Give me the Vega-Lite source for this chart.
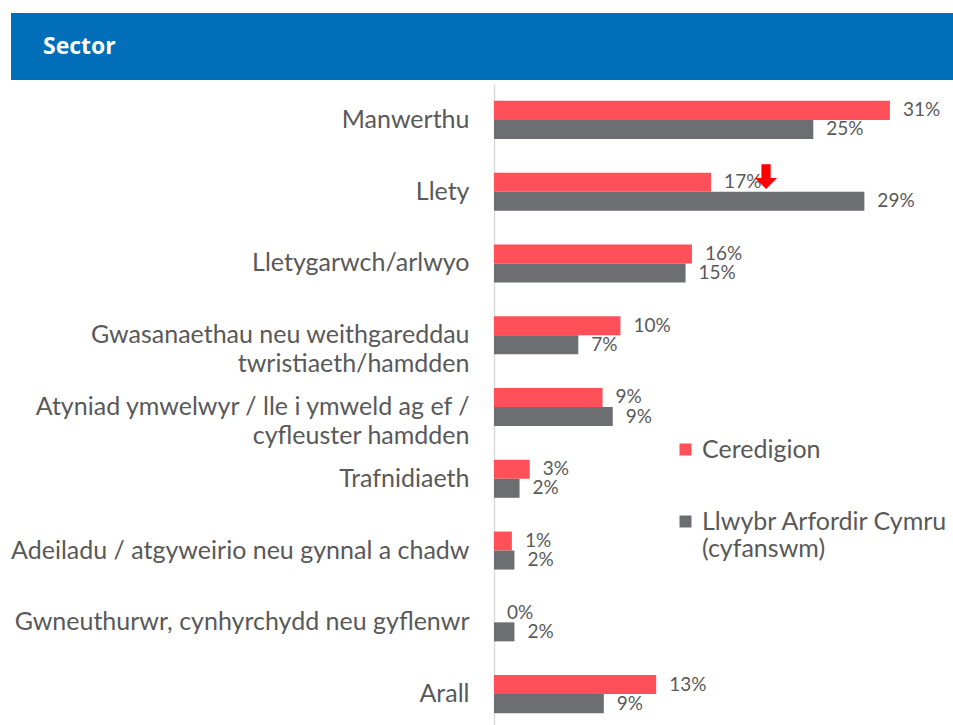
{
  "$schema": "https://vega.github.io/schema/vega-lite/v6.json",
  "padding": {"left": 10, "top": 13, "right": 0, "bottom": 0},
  "background": "white",
  "config": {"view": {"stroke": null}, "font": "Lato", "concat": {"spacing": 4}},
  "vconcat": [
    {
      "width": 460,
      "height": 67,
      "data": {"values": [{"title": "Sector", "x0": -483, "x1": 460, "xt": -451}]},
      "layer": [
        {
          "mark": {"type": "rect", "color": "#006EB8", "clip": false},
          "encoding": {
            "x": {"field": "x0", "type": "quantitative", "scale": {"domain": [0, 460], "nice": false, "zero": false}, "axis": null},
            "x2": {"field": "x1"},
            "y": {"datum": 0, "type": "quantitative", "scale": {"domain": [0, 1]}, "axis": null},
            "y2": {"datum": 1}
          }
        },
        {
          "mark": {"type": "text", "align": "left", "baseline": "middle", "color": "white", "fontSize": 23, "fontWeight": "bold", "font": "Open Sans"},
          "encoding": {
            "text": {"field": "title"},
            "x": {"field": "xt", "type": "quantitative"},
            "y": {"datum": 0.5, "type": "quantitative"}
          }
        }
      ]
    },
    {
      "width": 447,
      "height": 646,
      "data": {
        "values": [
          {"sector": "Manwerthu", "series": "Ceredigion", "value": 31, "label": "31%"},
          {"sector": "Manwerthu", "series": "Llwybr Arfordir Cymru (cyfanswm)", "value": 25, "label": "25%"},
          {"sector": "Llety", "series": "Ceredigion", "value": 17, "label": "17%"},
          {"sector": "Llety", "series": "Llwybr Arfordir Cymru (cyfanswm)", "value": 29, "label": "29%"},
          {"sector": "Lletygarwch/arlwyo", "series": "Ceredigion", "value": 15.5, "label": "16%"},
          {"sector": "Lletygarwch/arlwyo", "series": "Llwybr Arfordir Cymru (cyfanswm)", "value": 15, "label": "15%"},
          {"sector": "Gwasanaethau neu weithgareddau|twristiaeth/hamdden", "series": "Ceredigion", "value": 9.9, "label": "10%"},
          {"sector": "Gwasanaethau neu weithgareddau|twristiaeth/hamdden", "series": "Llwybr Arfordir Cymru (cyfanswm)", "value": 6.6, "label": "7%"},
          {"sector": "Atyniad ymwelwyr / lle i ymweld ag ef /|cyfleuster hamdden", "series": "Ceredigion", "value": 8.5, "label": "9%"},
          {"sector": "Atyniad ymwelwyr / lle i ymweld ag ef /|cyfleuster hamdden", "series": "Llwybr Arfordir Cymru (cyfanswm)", "value": 9.3, "label": "9%"},
          {"sector": "Trafnidiaeth", "series": "Ceredigion", "value": 2.8, "label": "3%"},
          {"sector": "Trafnidiaeth", "series": "Llwybr Arfordir Cymru (cyfanswm)", "value": 2.0, "label": "2%"},
          {"sector": "Adeiladu / atgyweirio neu gynnal a chadw", "series": "Ceredigion", "value": 1.4, "label": "1%"},
          {"sector": "Adeiladu / atgyweirio neu gynnal a chadw", "series": "Llwybr Arfordir Cymru (cyfanswm)", "value": 1.6, "label": "2%"},
          {"sector": "Gwneuthurwr, cynhyrchydd neu gyflenwr", "series": "Ceredigion", "value": 0, "label": "0%"},
          {"sector": "Gwneuthurwr, cynhyrchydd neu gyflenwr", "series": "Llwybr Arfordir Cymru (cyfanswm)", "value": 1.6, "label": "2%"},
          {"sector": "Arall", "series": "Ceredigion", "value": 12.7, "label": "13%"},
          {"sector": "Arall", "series": "Llwybr Arfordir Cymru (cyfanswm)", "value": 8.6, "label": "9%"}
        ]
      },
      "encoding": {
        "y": {
          "field": "sector",
          "type": "nominal",
          "sort": null,
          "scale": {"paddingInner": 0.47, "paddingOuter": 0.235},
          "axis": {
            "title": null,
            "ticks": false,
            "domain": true,
            "domainColor": "#D9D9D9",
            "domainWidth": 1.5,
            "labelFontSize": 25,
            "labelColor": "#595959",
            "labelPadding": 25,
            "labelLineHeight": 29,
            "labelLimit": 0,
            "labelExpr": "split(datum.label, '|')",
            "minExtent": 482,
            "maxExtent": 482
          }
        },
        "yOffset": {
          "field": "series",
          "type": "nominal",
          "sort": ["Ceredigion", "Llwybr Arfordir Cymru (cyfanswm)"],
          "scale": {"paddingInner": 0, "paddingOuter": 0}
        },
        "x": {
          "field": "value",
          "type": "quantitative",
          "scale": {"domain": [0, 35], "nice": false},
          "axis": null
        }
      },
      "layer": [
        {
          "mark": {"type": "bar"},
          "encoding": {
            "color": {
              "field": "series",
              "type": "nominal",
              "sort": ["Ceredigion", "Llwybr Arfordir Cymru (cyfanswm)"],
              "scale": {"domain": ["Ceredigion", "Llwybr Arfordir Cymru (cyfanswm)"], "range": ["#FF505A", "#6D6E71"]},
              "legend": {
                "title": null,
                "orient": "none",
                "legendX": 179,
                "legendY": 424,
                "symbolType": "square",
                "symbolSize": 144,
                "symbolStrokeWidth": 0,
                "labelFontSize": 25,
                "labelColor": "#595959",
                "labelOffset": 4,
                "rowPadding": 46,
                "labelLimit": 0,
                "labelExpr": "datum.label == 'Llwybr Arfordir Cymru (cyfanswm)' ? ['Llwybr Arfordir Cymru', '(cyfanswm)'] : datum.label"
              }
            }
          }
        },
        {
          "mark": {"type": "text", "align": "left", "baseline": "middle", "dx": 13, "fontSize": 19, "color": "#595959"},
          "encoding": {"text": {"field": "label"}}
        },
        {
          "data": {"values": [{"sector": "Llety", "series": "Ceredigion", "value": 21.3}]},
          "mark": {
            "type": "point",
            "filled": true,
            "color": "#FF0000",
            "opacity": 1,
            "size": 484,
            "shape": "M-0.42,-1.63 L0.42,-1.63 L0.42,-0.38 L1,-0.38 L0,0.62 L-1,-0.38 L-0.42,-0.38 Z"
          },
          "encoding": {}
        }
      ]
    }
  ]
}
